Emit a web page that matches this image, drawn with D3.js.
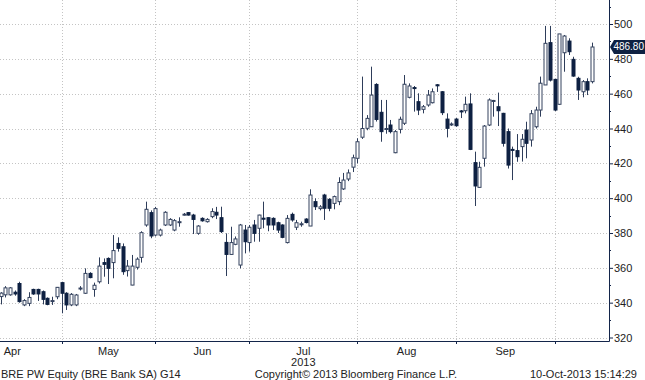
<!DOCTYPE html>
<html>
<head>
<meta charset="utf-8">
<script src="https://cdn.jsdelivr.net/npm/d3@7"></script>
<style>
  body { margin: 0; background: #fff; }
  text { font-family: "Liberation Sans", Arial, sans-serif; }
</style>
</head>
<body>
<div id="chart-area"></div>
<script>
// trading sessions shown (Warsaw, 2013)
const aprDays = [11,12,15,16,17,18,19,22,23,24,25,26,29,30];
const mayDays = [2,6,7,8,9,10,13,14,15,16,17,20,21,22,23,24,27,28,29,31];
const junDays = [3,4,5,6,7,10,11,12,13,14,17,18,19,20,21,24,25,26,27,28];
const julDays = [1,2,3,4,5,8,9,10,11,12,15,16,17,18,19,22,23,24,25,26,29,30,31];
const augDays = [1,2,5,6,7,8,9,12,13,14,16,19,20,21,22,23,26,27,28,29,30];
const sepDays = [2,3,4,5,6,9,10,11,12,13,16,17,18,19,20,23,24,25,26,27,30];
const octDays = [1,2,3,4,7,8,9,10];

const monthNames = ["Apr", "May", "Jun", "Jul", "Aug", "Sep"];
const monthSessions = [21, 20, 20, 23, 21, 21]; // full-month session counts, used to centre labels

const open = [343.5,344.5,344.5,346,351,338.7,339.6,347.6,347.6,346.3,342.5,341,343.4,351.5,
  345.4,338.7,338.7,348,345.4,356.8,347.6,352,363,365.4,363,374,372.1,358.4,350.1,360.3,366,384.6,391.7,378.8,
  378.8,384.6,384.6,381.7,386,390.5,391.7,390.3,379.8,388.4,386.5,389.4,391.9,388.8,374.6,367.7,373.5,361.6,381.7,374.5,
  384.6,382.7,388.5,388.8,388.4,385.9,384.6,374.5,390.7,383.3,385,388,384,398,394,401.8,399.3,397,398,405.3,411,417.8,422.9,
  435,440.1,441,465.3,449.3,439.5,442,426.1,439.5,443,457.9,463.5,455.4,451,453.5,454.8,465.1,461.1,445.4,442.6,445.4,
  450.1,450.2,454.1,420.4,406.2,422.9,442,455.8,452.5,448.7,438.2,428,427.3,429.6,439.1,433.4,441,450.6,465,489.3,468.2,
  453.9,483.5,490.2,479.7,468.8,461.1,466.9,466.9];
const high = [346,349.5,349,347,352,342,346,348,348,347,343,343.4,349,352,
  346,345.5,345,349.5,359.7,357.5,351.5,366,365.4,366,378.8,377.5,374,364.5,367.4,366,381,398,393,395,
  382.5,392.5,388.5,388,389,391.5,392,391,384.5,389,388.5,394.2,395,395.1,379.8,383.6,378,385.2,384.6,384.6,
  387.5,390.5,398,389,389,386.5,385,390.3,391.7,387.5,386.5,388.5,405.1,399.9,396,402.5,400,401.5,412,414.5,416.5,425,434.4,
  469.8,447.7,475.5,466,456.4,456.4,444.9,439.1,446.8,470.7,465.9,464.4,460.2,453.5,462.1,463,465.5,461.5,448.7,443.5,446,
  450.6,458.3,460.2,426.7,420.9,442,457.3,456.4,460.6,449,440,429.6,436.8,436.8,443.9,450.6,452.5,469.8,498.9,498.9,468.5,
  494.3,493.7,491.8,481.2,469.7,467.8,468.8,489.3];
const low = [339,343,344,344,340,338,338,344.5,341,339,338.5,338.7,342,333.9,
  335.8,338,338,347,345,354,343.4,351,354.9,350.7,354,369.3,356,355,350,359,363,383.6,377,378,
  378,384,384,381,383.6,390,390,379.4,379,386.5,386,388.5,388,380,355.3,367.5,373,359.7,368.3,369.3,
  375,375,382.7,381,381.7,380,377,374,386.5,381.7,383.6,385.5,384,393.2,393,387.5,392.5,393.6,396,404.7,409.8,415,420,
  434,439,441,444,432.4,437,437.2,425.8,437.2,442,457.3,449.7,447.7,448.7,452.5,454.4,461,447.7,434.9,441.5,441,
  446,448.7,427.6,395.5,406,418.1,441.4,446.8,441.4,429.6,417,410.4,420.9,421,422.9,429.6,440,446.8,465,467,450,
  453.5,472.6,482.2,469.7,456.4,457.9,459.2,465.9];
const close = [345.5,348.5,348.5,345,340.6,341.2,343,345,345,341.9,339,341.2,348.8,345.4,
  338.7,344.8,344.4,348.4,356.8,354.4,350,361,362,359.7,369.9,371.2,357.8,361,361,365,380.2,393.6,378.3,394,
  381.7,391.9,387.8,387.1,386.5,390.8,390.3,387.8,384,387,387.8,392.3,390.3,380.8,367.7,374.5,376.6,384.6,375,383.3,
  379.8,390.3,388,384.6,384.6,381.7,377.5,388.4,387.5,385.9,385.3,386,401.8,395.1,395,394.2,394.2,400.9,409,410.4,414.5,423.2,432.4,
  440,445.8,459.2,445.2,438.2,440,438.2,438.2,445.3,465.4,464.4,463,450.6,452.5,459.2,461.1,464.5,449.1,440.1,442.6,441.6,
  450,453.9,428,407,417.7,441.4,456.4,456.1,450.2,431.5,419,427.6,423.8,433.8,431.5,448.5,450.6,466,488.9,467.8,450.6,
  494.3,493.1,484.1,470.1,462.1,466.9,462.1,486.8];

const yTicks = [320, 340, 360, 380, 400, 420, 440, 460, 480, 500];
const yMinorTicks = [330, 350, 370, 390, 410, 430, 450, 470, 490, 510];
const lastPrice = 486.80;

const WIDTH = 645;
const HEIGHT = 380;
const PLOT_RIGHT = 609;
const PLOT_BOTTOM = 341;
const NAVY = "#13254a";

const dates = [];
[aprDays, mayDays, junDays, julDays, augDays, sepDays, octDays].forEach((days, m) => {
    days.forEach(d => dates.push(new Date(2013, 3 + m, d)));
});
const data = dates.map((date, i) => ({
    i: i, date: date, open: open[i], high: high[i], low: low[i], close: close[i]
}));

const svg = d3.select('#chart-area')
.append('svg')
.attr('width', WIDTH)
.attr('height', HEIGHT);

svg.append('rect').attr('width', WIDTH).attr('height', HEIGHT).attr('fill', '#fff');

// index scale: one slot per session, a little room on the right
const x = d3.scaleLinear().domain([0, dates.length + 2.6]).range([0.5, PLOT_RIGHT]);
const y = d3.scaleLinear().domain([320, 500]).range([337.5, 24]);

// last session of each month -> gridline / tick
const monthEnds = [];
for (let i = 0; i < dates.length - 1; i++) {
    if (dates[i].getMonth() !== dates[i + 1].getMonth()) monthEnds.push(i);
}

const grid = svg.append('g')
.attr('stroke', '#c4c4c4')
.attr('stroke-width', 1)
.attr('stroke-dasharray', '1,2');

grid.selectAll('line.h')
.data(yTicks)
.enter()
.append('line')
.attr('class', 'h')
.attr('x1', 0)
.attr('x2', PLOT_RIGHT)
.attr('y1', d => Math.round(y(d)) + 0.5)
.attr('y2', d => Math.round(y(d)) + 0.5);

grid.selectAll('line.v')
.data(monthEnds)
.enter()
.append('line')
.attr('class', 'v')
.attr('x1', d => Math.round(x(d)) + 0.5)
.attr('x2', d => Math.round(x(d)) + 0.5)
.attr('y1', 0)
.attr('y2', PLOT_BOTTOM);

// candles
const candles = svg.append('g');

candles.selectAll('line.wick')
.data(data)
.enter()
.append('line')
.attr('class', 'wick')
.attr('x1', d => Math.round(x(d.i)) + 0.5)
.attr('x2', d => Math.round(x(d.i)) + 0.5)
.attr('y1', d => y(d.high))
.attr('y2', d => y(d.low))
.attr('stroke', '#2e3d5a')
.attr('stroke-width', 1);

candles.selectAll('rect.body')
.data(data)
.enter()
.append('rect')
.attr('class', 'body')
.attr('x', d => Math.round(x(d.i)) - 1)
.attr('width', 3)
.attr('y', d => y(Math.max(d.open, d.close)))
.attr('height', d => Math.max(1, Math.abs(y(d.open) - y(d.close))))
.attr('fill', d => d.close >= d.open ? '#fff' : '#0e2142')
.attr('stroke', d => d.close >= d.open ? '#34425e' : '#0e2142')
.attr('stroke-width', 1);

// right axis
const yAxisGroup = svg.append('g')
.attr('transform', `translate(${PLOT_RIGHT}, 0)`);

yAxisGroup.call(d3.axisRight(y).tickValues(yTicks).tickSize(4).tickPadding(1).tickSizeOuter(0));
yAxisGroup.select('.domain').remove();
yAxisGroup.selectAll('.tick line').attr('stroke', NAVY);
yAxisGroup.selectAll('.tick text')
.attr('fill', '#222')
.attr('font-size', '11px')
.attr('font-family', '"Liberation Sans", Arial, sans-serif');

yAxisGroup.selectAll('line.minor')
.data(yMinorTicks)
.enter()
.append('line')
.attr('class', 'minor')
.attr('x1', 0)
.attr('x2', 2)
.attr('y1', d => Math.round(y(d)) + 0.5)
.attr('y2', d => Math.round(y(d)) + 0.5)
.attr('stroke', NAVY);

svg.append('line')
.attr('x1', PLOT_RIGHT + 0.5).attr('x2', PLOT_RIGHT + 0.5)
.attr('y1', 0).attr('y2', PLOT_BOTTOM + 0.5)
.attr('stroke', NAVY);

// bottom axis
svg.append('line')
.attr('x1', 0).attr('x2', PLOT_RIGHT + 0.5)
.attr('y1', PLOT_BOTTOM + 0.5).attr('y2', PLOT_BOTTOM + 0.5)
.attr('stroke', NAVY);

svg.selectAll('line.xtick')
.data(monthEnds)
.enter()
.append('line')
.attr('class', 'xtick')
.attr('x1', d => Math.round(x(d)) + 0.5)
.attr('x2', d => Math.round(x(d)) + 0.5)
.attr('y1', PLOT_BOTTOM)
.attr('y2', PLOT_BOTTOM + 3)
.attr('stroke', NAVY);

// month labels centred on each month's span of sessions
svg.selectAll('text.month')
.data(monthNames)
.enter()
.append('text')
.attr('class', 'month')
.attr('x', (d, m) => x(monthEnds[m] - monthSessions[m] / 2))
.attr('y', 355)
.attr('text-anchor', 'middle')
.attr('font-size', '11px')
.attr('fill', '#222')
.text(d => d);

svg.append('text')
.attr('x', x(monthEnds[3] - monthSessions[3] / 2))
.attr('y', 366)
.attr('text-anchor', 'middle')
.attr('font-size', '11px')
.attr('fill', '#222')
.text('2013');

// footer
const footer = svg.append('g').attr('font-size', '11px').attr('fill', '#222');
footer.append('text').attr('x', 1).attr('y', 378).text('BRE PW Equity (BRE Bank SA) G14');
footer.append('text').attr('x', 356).attr('y', 378).attr('text-anchor', 'middle').text('Copyright\u00A9 2013 Bloomberg Finance L.P.');
footer.append('text').attr('x', 637).attr('y', 378).attr('text-anchor', 'end').text('10-Oct-2013 15:14:29');

// last price tag
const ly = y(lastPrice);
svg.append('path')
.attr('d', `M${PLOT_RIGHT + 1},${ly} L${PLOT_RIGHT + 5},${ly - 7} L${WIDTH},${ly - 7} L${WIDTH},${ly + 7} L${PLOT_RIGHT + 5},${ly + 7} Z`)
.attr('fill', '#0e2142');

svg.append('text')
.attr('x', WIDTH - 1)
.attr('y', ly + 3.5)
.attr('text-anchor', 'end')
.attr('font-size', '10px')
.attr('fill', '#fff')
.text(lastPrice.toFixed(2));
</script>
</body>
</html>
